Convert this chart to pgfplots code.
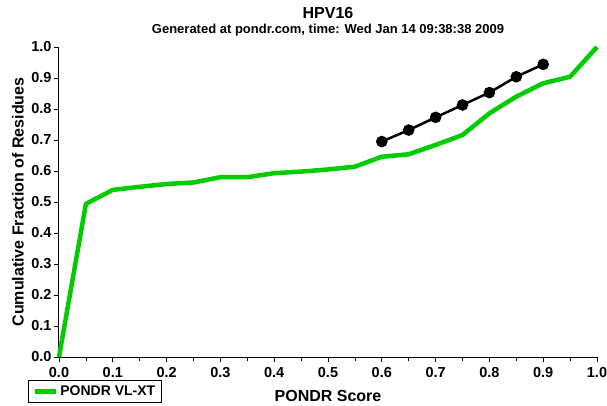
\documentclass[border=0pt]{standalone}
\usepackage{fontspec}
\setmainfont{Liberation Sans}
\usepackage{pgfplots}
\pgfplotsset{compat=1.18}
\definecolor{pgreen}{RGB}{0,204,0}
\begin{document}
\begin{tikzpicture}[x=1pt,y=1pt]
\useasboundingbox (0,0) rectangle (607,405);
\begin{axis}[
  at={(59pt,48pt)}, anchor=south west,
  width=538pt, height=310pt, scale only axis,
  xmin=0, xmax=1, ymin=0, ymax=1,
  axis lines*=left,
  axis line style={line width=1pt},
  tick align=outside,
  major tick length=5pt, minor tick length=3.5pt,
  tick style={black, line width=0.8pt},
  xtick={0,0.1,...,1.0}, ytick={0,0.1,...,1.0},
  minor xtick={0.05,0.15,...,0.95},
  xticklabels={0.0,0.1,0.2,0.3,0.4,0.5,0.6,0.7,0.8,0.9,1.0},
  yticklabels={0.0,0.1,0.2,0.3,0.4,0.5,0.6,0.7,0.8,0.9,1.0},
  ticklabel style={font=\fontsize{14.5}{16}\selectfont\bfseries},
  xticklabel style={yshift=-2pt},
  yticklabel style={xshift=1pt},
  xlabel={PONDR Score},
  ylabel={Cumulative Fraction of Residues},
  label style={font=\fontsize{16}{18}\selectfont\bfseries},
  every axis x label/.append style={at={(rel axis cs:0.5,-0.1258)}, anchor=center},
  every axis y label/.append style={at={(rel axis cs:-0.0762,0.5)}, anchor=center},
  clip=false,
  legend style={at={(rel axis cs:-0.0576,-0.148)}, anchor=south west,
    draw=black, line width=0.8pt, font=\fontsize{14}{15}\selectfont\bfseries,
    inner xsep=4pt, inner ysep=3.5pt, row sep=0pt},
  legend cell align=left,
  legend image code/.code={\draw[#1, line width=5pt] (0pt,0pt) -- (21pt,0pt);},
]
\addplot[pgreen, line width=4.5pt, line join=round] coordinates {
(0,0) (0.05,0.494) (0.1,0.539) (0.15,0.549) (0.2,0.558) (0.25,0.563)
(0.3,0.58) (0.35,0.58) (0.4,0.593) (0.45,0.598) (0.5,0.605) (0.55,0.614)
(0.6,0.646) (0.65,0.654) (0.7,0.684) (0.75,0.716) (0.8,0.786) (0.85,0.840)
(0.9,0.883) (0.95,0.904) (1.0,1.0)};
\addlegendentry{PONDR VL-XT}
\addplot[black, line width=2.5pt, mark=*, mark size=4.5pt, mark options={solid}, forget plot] coordinates {
(0.6,0.695) (0.65,0.732) (0.7,0.773) (0.75,0.813) (0.8,0.853) (0.85,0.904) (0.9,0.944)};
\node[font=\fontsize{16}{18}\selectfont\bfseries] at (rel axis cs:0.5,1.11) {HPV16};
\node[font=\fontsize{13}{15}\selectfont\bfseries] at (rel axis cs:0.5,1.053) {Generated at pondr.com, time: Wed Jan 14 09:38:38 2009};
\end{axis}
\end{tikzpicture}
\end{document}
